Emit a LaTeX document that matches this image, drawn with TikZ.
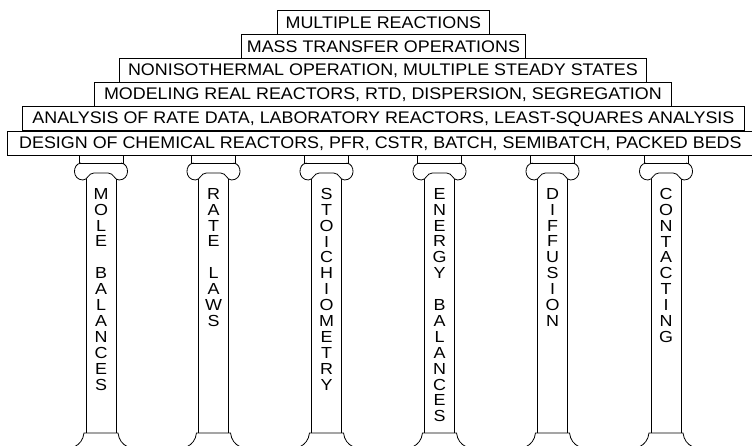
\documentclass[tikz,border=0pt]{standalone}
\usepackage{fontspec}
\newfontfamily\tierfont[FakeStretch=1.065]{Liberation Sans}
\newfontfamily\pillarfont[FakeStretch=1.12]{Liberation Sans}

\tikzset{
  tier/.style={draw, line width=0.8pt, inner sep=0pt, minimum height=24pt, anchor=north west,
    font={\fontsize{16.8pt}{18pt}\tierfont}},
  pillar/.style={line width=0.8pt},
  pillartext/.style={align=center, inner sep=0pt, anchor=north,
    font={\fontsize{16pt}{15.9pt}\pillarfont}},
}

\begin{document}
\begin{tikzpicture}[x=1pt, y=-1pt]
    \useasboundingbox (0,0) rectangle (752,446);
    %
    % the roof, one tier on top of the other
    \node[tier, minimum width=212pt] (multiple) at (277,10)    {MULTIPLE REACTIONS};
    \node[tier, minimum width=284pt] (mass)     at (241,34)    {MASS TRANSFER OPERATIONS};
    \node[tier, minimum width=527pt] (noniso)   at (119,58)    {NONISOTHERMAL OPERATION, MULTIPLE STEADY STATES};
    \node[tier, minimum width=577pt] (modeling) at (94,82)     {MODELING REAL REACTORS, RTD, DISPERSION, SEGREGATION};
    \node[tier, minimum width=722pt] (analysis) at (22,106.5)  {ANALYSIS OF RATE DATA, LABORATORY REACTORS, LEAST-SQUARES ANALYSIS};
    \node[tier, minimum width=746pt] (design)   at (7,131)     {DESIGN OF CHEMICAL REACTORS, PFR, CSTR, BATCH, SEMIBATCH, PACKED BEDS};
    %
    % the pillars
    \foreach \cx/\name/\word in {
        101/mole/{M\\O\\L\\E\\\mbox{}\\B\\A\\L\\A\\N\\C\\E\\S},
        213.5/rate/{R\\A\\T\\E\\\mbox{}\\L\\A\\W\\S},
        326.5/stoich/{S\\T\\O\\I\\C\\H\\I\\O\\M\\E\\T\\R\\Y},
        439.5/energy/{E\\N\\E\\R\\G\\Y\\\mbox{}\\B\\A\\L\\A\\N\\C\\E\\S},
        552.5/diffusion/{D\\I\\F\\F\\U\\S\\I\\O\\N},
        666/contact/{C\\O\\N\\T\\A\\C\\T\\I\\N\\G}}{
        % abacus
        \draw[pillar] (\cx-22,155) rectangle (\cx+22,163);
        % volutes
        \draw[pillar] (\cx-20,163) .. controls (\cx-29,164) and (\cx-29,180) .. (\cx-18,180)
            .. controls (\cx-13,180) and (\cx-13,173) .. (\cx-7,173) -- (\cx+7,173)
            .. controls (\cx+13,173) and (\cx+13,180) .. (\cx+18,180)
            .. controls (\cx+29,180) and (\cx+29,164) .. (\cx+20,163);
        % shaft
        \draw[pillar] (\cx-15,179) -- (\cx-15,433) (\cx+15,179) -- (\cx+15,433);
        % base
        \draw[pillar] (\cx-27,447) .. controls (\cx-21,444) and (\cx-18,440) .. (\cx-17,433)
            -- (\cx+17,433) .. controls (\cx+18,440) and (\cx+21,444) .. (\cx+27,447);
        \node[pillartext] (\name) at (\cx,188) {\word};
    }
\end{tikzpicture}
\end{document}
